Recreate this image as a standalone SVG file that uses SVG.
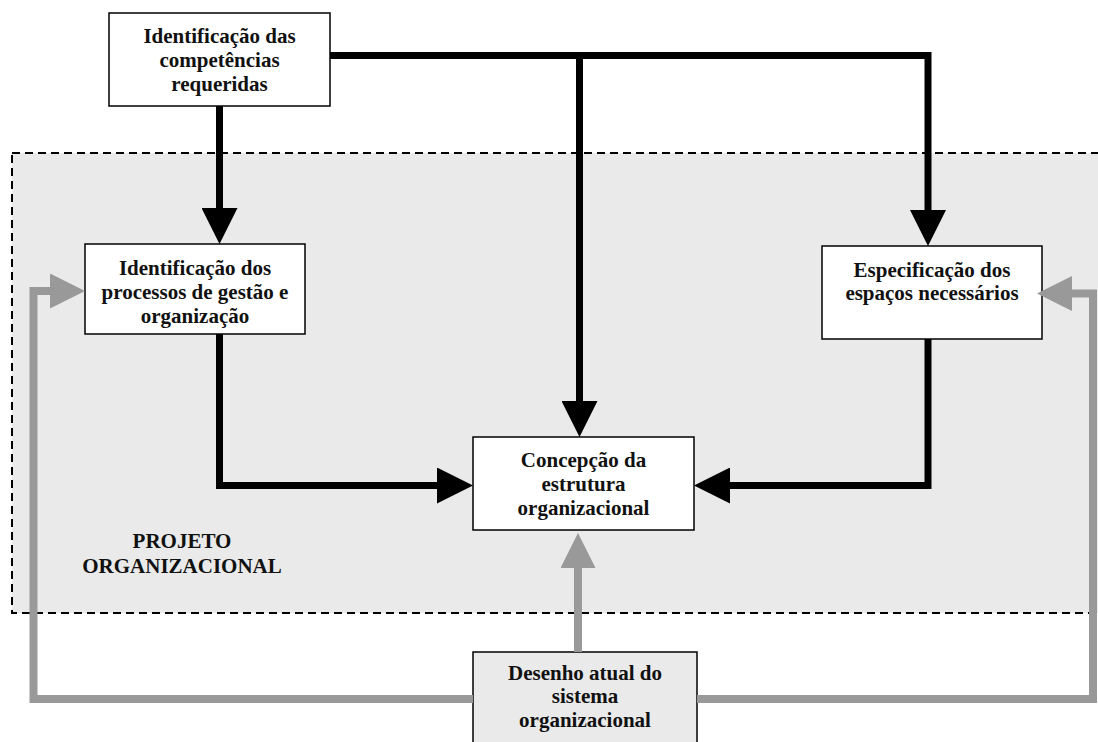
<svg xmlns="http://www.w3.org/2000/svg" width="1098" height="742" viewBox="0 0 1098 742">
  <style>
    .box { fill: #ffffff; stroke: #000000; stroke-width: 1.5; }
    .box-grey { fill: #eaeaea; stroke: #000000; stroke-width: 1.5; }
    .label { font-family: "Liberation Serif", "Times New Roman", serif; font-weight: bold; font-size: 21px; fill: #111111; text-anchor: middle; }
    .flow { fill: none; stroke: #000000; stroke-width: 7; stroke-linejoin: miter; }
    .feedback { fill: none; stroke: #999999; stroke-width: 8; stroke-linejoin: miter; }
  </style>
  <defs>
    <marker id="head-black" markerUnits="userSpaceOnUse" viewBox="0 0 36 36" refX="0" refY="18" markerWidth="36" markerHeight="36" orient="auto">
      <path d="M0,0 L36,18 L0,36 Z" fill="#000000"/>
    </marker>
    <marker id="head-grey" markerUnits="userSpaceOnUse" viewBox="0 0 35 35" refX="0" refY="17.5" markerWidth="35" markerHeight="35" orient="auto">
      <path d="M0,0 L35,17.5 L0,35 Z" fill="#999999"/>
    </marker>
  </defs>

  <!-- project boundary -->
  <g id="projeto-organizacional">
    <rect x="12" y="153" width="1092" height="460" fill="#eaeaea" stroke="#000000" stroke-width="2" stroke-dasharray="8 5"/>
    <text class="label" x="182" y="548">PROJETO</text>
    <text class="label" x="182" y="573">ORGANIZACIONAL</text>
  </g>

  <g id="competencias">
    <rect class="box" x="109" y="13" width="221" height="93"/>
    <text class="label" x="219.5" y="43">Identificação das</text>
    <text class="label" x="219.5" y="67">competências</text>
    <text class="label" x="219.5" y="91">requeridas</text>
  </g>

  <g id="processos">
    <rect class="box" x="85" y="244" width="220" height="90"/>
    <text class="label" x="195" y="275">Identificação dos</text>
    <text class="label" x="195" y="299">processos de gestão e</text>
    <text class="label" x="195" y="323">organização</text>
  </g>

  <g id="espacos">
    <rect class="box" x="822" y="246" width="220" height="93"/>
    <text class="label" x="932" y="277">Especificação dos</text>
    <text class="label" x="932" y="300">espaços necessários</text>
  </g>

  <g id="estrutura">
    <rect class="box" x="473" y="437" width="221" height="93"/>
    <text class="label" x="583.5" y="467">Concepção da</text>
    <text class="label" x="583.5" y="491">estrutura</text>
    <text class="label" x="583.5" y="515">organizacional</text>
  </g>

  <g id="desenho-atual">
    <rect class="box-grey" x="473" y="652" width="224" height="110"/>
    <text class="label" x="585" y="680">Desenho atual do</text>
    <text class="label" x="585" y="703">sistema</text>
    <text class="label" x="585" y="727">organizacional</text>
  </g>

  <g id="connectors">
    <path class="flow" d="M219.5,106 V208" marker-end="url(#head-black)"/>
    <path class="flow" d="M330,55.5 H928 V210" marker-end="url(#head-black)"/>
    <path class="flow" d="M579.5,55.5 V401" marker-end="url(#head-black)"/>
    <path class="flow" d="M219.5,334 V485.5 H437" marker-end="url(#head-black)"/>
    <path class="flow" d="M928,339 V485.5 H730" marker-end="url(#head-black)"/>
    <path class="feedback" d="M473,699 H33.5 V291 H50" marker-end="url(#head-grey)"/>
    <path class="feedback" d="M697,699 H1093 V293.5 H1072" marker-end="url(#head-grey)"/>
    <path class="feedback" d="M578,652 V568" marker-end="url(#head-grey)"/>
  </g>
</svg>
